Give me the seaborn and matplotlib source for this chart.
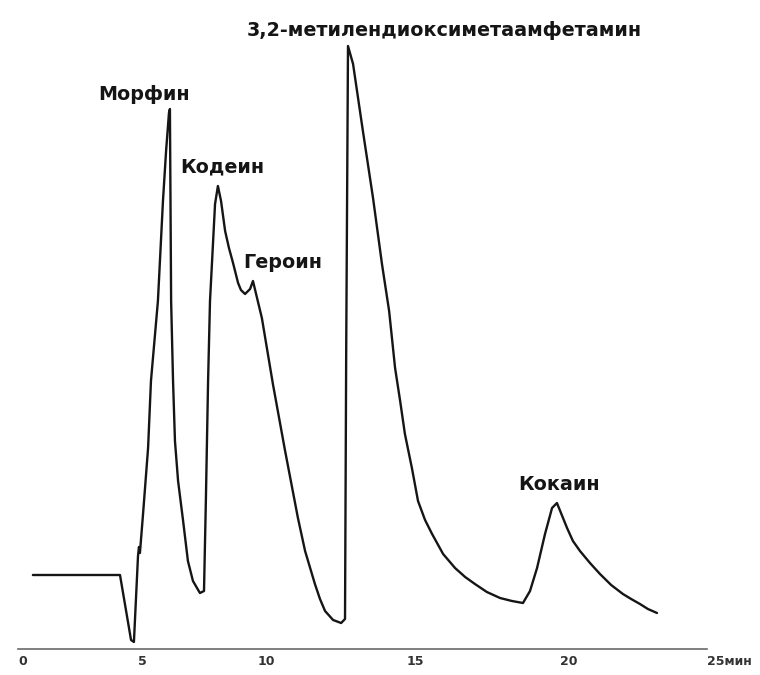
import numpy as np
import pandas as pd
import matplotlib
matplotlib.use("Agg")
import matplotlib.pyplot as plt
import seaborn as sns

# Retention time (min) and detector signal (arbitrary units)
time_min = [
    0.62, 4.25, 4.71, 4.83, 5.00, 5.04, 5.08, 5.21, 5.42, 5.54,
    5.83, 6.04, 6.17, 6.29, 6.33, 6.38, 6.46, 6.54, 6.67, 6.88,
    7.08, 7.29, 7.58, 7.75, 7.83, 7.92, 8.00, 8.21, 8.33, 8.46,
    8.63, 8.79, 8.96, 9.17, 9.29, 9.46, 9.67, 9.79, 10.13, 10.50,
    10.91, 11.34, 11.58, 11.91, 12.08, 12.25, 12.52, 12.79, 12.92, 12.96,
    13.02, 13.19, 13.52, 13.86, 14.16, 14.40, 14.60, 14.77, 14.93, 15.16,
    15.36, 15.59, 15.82, 16.18, 16.57, 16.90, 17.22, 17.61, 18.04, 18.43,
    18.79, 19.02, 19.25, 19.51, 19.74, 19.90, 20.24, 20.44, 20.68, 21.02,
    21.36, 21.74, 22.14, 22.42, 22.72, 22.99, 23.30,
]
signal = [
    74, 74, 9, 7, 93, 102, 96, 135, 201, 268,
    348, 448, 498, 536, 540, 348, 268, 208, 168, 128,
    88, 68, 56, 58, 151, 268, 348, 445, 463, 448,
    418, 401, 386, 366, 359, 355, 360, 368, 331, 265,
    198, 131, 98, 65, 50, 38, 29, 26, 30, 300,
    603, 585, 518, 451, 385, 338, 281, 248, 215, 181,
    148, 129, 115, 95, 81, 72, 65, 57, 51, 48,
    46, 58, 81, 115, 141, 146, 121, 108, 98, 86,
    75, 64, 55, 50, 45, 40, 36,
]

# Peak labels: compound, label centre (time, signal)
peak_names = ["Морфин", "Кодеин", "Героин",
              "3,2-метилендиоксиметаамфетамин", "Кокаин"]
peak_label_time = [5.25, 8.50, 10.84, 16.22, 19.96]
peak_label_signal = [554, 482, 387, 619, 164]

tick_values = [0, 5, 10, 15, 20, 25]
tick_labels = ["0", "5", "10", "15", "20", "25мин"]

# The recorder's time axis is not uniform: breakpoints of a piecewise-linear scale
scale_minutes = [-5, 0, 5, 10, 15, 20, 25, 30]
scale_units = [-102, 18, 138, 258, 407, 560, 707, 854]


def forward(t):
    return np.interp(t, scale_minutes, scale_units)


def inverse(u):
    return np.interp(u, scale_units, scale_minutes)


sns.set_theme(style="white")
plt.rcParams["font.family"] = ["DejaVu Sans"]

df = pd.DataFrame({"time": time_min, "signal": signal})

fig = plt.figure(figsize=(7.6, 6.75), dpi=100, facecolor="white")
ax = fig.add_axes([0, 0, 1, 1])
ax.set_xscale("function", functions=(forward, inverse))

sns.lineplot(data=df, x="time", y="signal", sort=False, estimator=None,
             color="#151515", linewidth=1.7, ax=ax)

ax.set_xlim(inverse(0), inverse(760))
ax.set_ylim(-26, 649)

for s in ["top", "left", "right"]:
    ax.spines[s].set_visible(False)
ax.spines["bottom"].set_position(("data", 0))
ax.spines["bottom"].set_bounds(0, 25)
ax.spines["bottom"].set_color("#6a6a6a")
ax.spines["bottom"].set_linewidth(1.2)

ax.set_xticks(tick_values, labels=tick_labels)
ax.set_yticks([])
ax.tick_params(axis="x", direction="in", length=6, width=1.0,
               color="#6a6a6a", pad=4, labelsize=9, labelcolor="#333333")
for lab in ax.get_xticklabels():
    lab.set_horizontalalignment("left")
    lab.set_fontweight("bold")

ax.set_xlabel("")
ax.set_ylabel("")

for name, tx, ty in zip(peak_names, peak_label_time, peak_label_signal):
    ax.text(tx, ty, name, ha="center", va="center", fontsize=13.8,
            fontweight="bold", color="#151515")

fig.savefig("out.png", dpi=100, facecolor="white")
